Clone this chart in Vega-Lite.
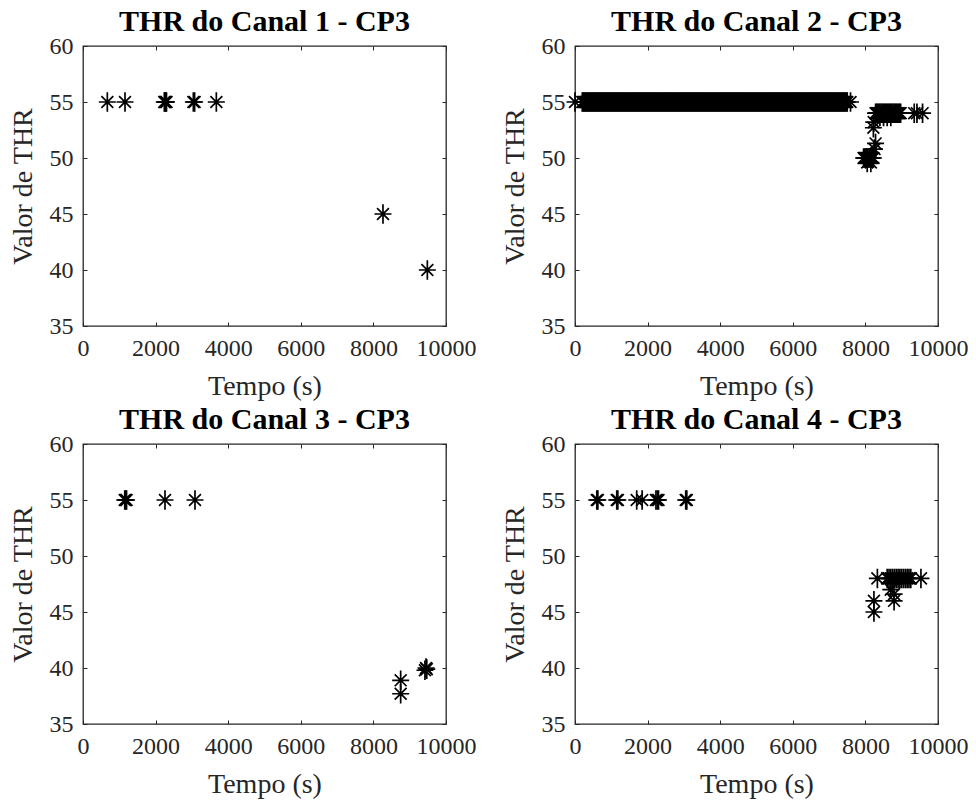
{
  "$schema": "https://vega.github.io/schema/vega-lite/v6.json",
  "background": "white",
  "padding": {"left": 8, "top": 6, "right": 5, "bottom": 5},
  "datasets": {
    "c1": [{"t":670,"v":55},{"t":1157,"v":55},{"t":2240,"v":55},{"t":2260,"v":55},{"t":2280,"v":55},{"t":2300,"v":55},{"t":3040,"v":55},{"t":3075,"v":55},{"t":3673,"v":55},{"t":8264,"v":45},{"t":9486,"v":40}],
    "c2": [{"t":0,"v":55},
      {"t":200,"v":55},{"t":225,"v":55},{"t":250,"v":55},{"t":275,"v":55},{"t":300,"v":55},{"t":325,"v":55},{"t":350,"v":55},{"t":375,"v":55},{"t":400,"v":55},{"t":425,"v":55},{"t":450,"v":55},{"t":475,"v":55},
      {"t":500,"v":55},{"t":525,"v":55},{"t":550,"v":55},{"t":575,"v":55},{"t":600,"v":55},{"t":625,"v":55},{"t":650,"v":55},{"t":675,"v":55},{"t":700,"v":55},{"t":725,"v":55},{"t":750,"v":55},{"t":775,"v":55},
      {"t":800,"v":55},{"t":825,"v":55},{"t":850,"v":55},{"t":875,"v":55},{"t":900,"v":55},{"t":925,"v":55},{"t":950,"v":55},{"t":975,"v":55},{"t":1000,"v":55},{"t":1025,"v":55},{"t":1050,"v":55},{"t":1075,"v":55},
      {"t":1100,"v":55},{"t":1125,"v":55},{"t":1150,"v":55},{"t":1175,"v":55},{"t":1200,"v":55},{"t":1225,"v":55},{"t":1250,"v":55},{"t":1275,"v":55},{"t":1300,"v":55},{"t":1325,"v":55},{"t":1350,"v":55},{"t":1375,"v":55},
      {"t":1400,"v":55},{"t":1425,"v":55},{"t":1450,"v":55},{"t":1475,"v":55},{"t":1500,"v":55},{"t":1525,"v":55},{"t":1550,"v":55},{"t":1575,"v":55},{"t":1600,"v":55},{"t":1625,"v":55},{"t":1650,"v":55},{"t":1675,"v":55},
      {"t":1700,"v":55},{"t":1725,"v":55},{"t":1750,"v":55},{"t":1775,"v":55},{"t":1800,"v":55},{"t":1825,"v":55},{"t":1850,"v":55},{"t":1875,"v":55},{"t":1900,"v":55},{"t":1925,"v":55},{"t":1950,"v":55},{"t":1975,"v":55},
      {"t":2000,"v":55},{"t":2025,"v":55},{"t":2050,"v":55},{"t":2075,"v":55},{"t":2100,"v":55},{"t":2125,"v":55},{"t":2150,"v":55},{"t":2175,"v":55},{"t":2200,"v":55},{"t":2225,"v":55},{"t":2250,"v":55},{"t":2275,"v":55},
      {"t":2300,"v":55},{"t":2325,"v":55},{"t":2350,"v":55},{"t":2375,"v":55},{"t":2400,"v":55},{"t":2425,"v":55},{"t":2450,"v":55},{"t":2475,"v":55},{"t":2500,"v":55},{"t":2525,"v":55},{"t":2550,"v":55},{"t":2575,"v":55},
      {"t":2600,"v":55},{"t":2625,"v":55},{"t":2650,"v":55},{"t":2675,"v":55},{"t":2700,"v":55},{"t":2725,"v":55},{"t":2750,"v":55},{"t":2775,"v":55},{"t":2800,"v":55},{"t":2825,"v":55},{"t":2850,"v":55},{"t":2875,"v":55},
      {"t":2900,"v":55},{"t":2925,"v":55},{"t":2950,"v":55},{"t":2975,"v":55},{"t":3000,"v":55},{"t":3025,"v":55},{"t":3050,"v":55},{"t":3075,"v":55},{"t":3100,"v":55},{"t":3125,"v":55},{"t":3150,"v":55},{"t":3175,"v":55},
      {"t":3200,"v":55},{"t":3225,"v":55},{"t":3250,"v":55},{"t":3275,"v":55},{"t":3300,"v":55},{"t":3325,"v":55},{"t":3350,"v":55},{"t":3375,"v":55},{"t":3400,"v":55},{"t":3425,"v":55},{"t":3450,"v":55},{"t":3475,"v":55},
      {"t":3500,"v":55},{"t":3525,"v":55},{"t":3550,"v":55},{"t":3575,"v":55},{"t":3600,"v":55},{"t":3625,"v":55},{"t":3650,"v":55},{"t":3675,"v":55},{"t":3700,"v":55},{"t":3725,"v":55},{"t":3750,"v":55},{"t":3775,"v":55},
      {"t":3800,"v":55},{"t":3825,"v":55},{"t":3850,"v":55},{"t":3875,"v":55},{"t":3900,"v":55},{"t":3925,"v":55},{"t":3950,"v":55},{"t":3975,"v":55},{"t":4000,"v":55},{"t":4025,"v":55},{"t":4050,"v":55},{"t":4075,"v":55},
      {"t":4100,"v":55},{"t":4125,"v":55},{"t":4150,"v":55},{"t":4175,"v":55},{"t":4200,"v":55},{"t":4225,"v":55},{"t":4250,"v":55},{"t":4275,"v":55},{"t":4300,"v":55},{"t":4325,"v":55},{"t":4350,"v":55},{"t":4375,"v":55},
      {"t":4400,"v":55},{"t":4425,"v":55},{"t":4450,"v":55},{"t":4475,"v":55},{"t":4500,"v":55},{"t":4525,"v":55},{"t":4550,"v":55},{"t":4575,"v":55},{"t":4600,"v":55},{"t":4625,"v":55},{"t":4650,"v":55},{"t":4675,"v":55},
      {"t":4700,"v":55},{"t":4725,"v":55},{"t":4750,"v":55},{"t":4775,"v":55},{"t":4800,"v":55},{"t":4825,"v":55},{"t":4850,"v":55},{"t":4875,"v":55},{"t":4900,"v":55},{"t":4925,"v":55},{"t":4950,"v":55},{"t":4975,"v":55},
      {"t":5000,"v":55},{"t":5025,"v":55},{"t":5050,"v":55},{"t":5075,"v":55},{"t":5100,"v":55},{"t":5125,"v":55},{"t":5150,"v":55},{"t":5175,"v":55},{"t":5200,"v":55},{"t":5225,"v":55},{"t":5250,"v":55},{"t":5275,"v":55},
      {"t":5300,"v":55},{"t":5325,"v":55},{"t":5350,"v":55},{"t":5375,"v":55},{"t":5400,"v":55},{"t":5425,"v":55},{"t":5450,"v":55},{"t":5475,"v":55},{"t":5500,"v":55},{"t":5525,"v":55},{"t":5550,"v":55},{"t":5575,"v":55},
      {"t":5600,"v":55},{"t":5625,"v":55},{"t":5650,"v":55},{"t":5675,"v":55},{"t":5700,"v":55},{"t":5725,"v":55},{"t":5750,"v":55},{"t":5775,"v":55},{"t":5800,"v":55},{"t":5825,"v":55},{"t":5850,"v":55},{"t":5875,"v":55},
      {"t":5900,"v":55},{"t":5925,"v":55},{"t":5950,"v":55},{"t":5975,"v":55},{"t":6000,"v":55},{"t":6025,"v":55},{"t":6050,"v":55},{"t":6075,"v":55},{"t":6100,"v":55},{"t":6125,"v":55},{"t":6150,"v":55},{"t":6175,"v":55},
      {"t":6200,"v":55},{"t":6225,"v":55},{"t":6250,"v":55},{"t":6275,"v":55},{"t":6300,"v":55},{"t":6325,"v":55},{"t":6350,"v":55},{"t":6375,"v":55},{"t":6400,"v":55},{"t":6425,"v":55},{"t":6450,"v":55},{"t":6475,"v":55},
      {"t":6500,"v":55},{"t":6525,"v":55},{"t":6550,"v":55},{"t":6575,"v":55},{"t":6600,"v":55},{"t":6625,"v":55},{"t":6650,"v":55},{"t":6675,"v":55},{"t":6700,"v":55},{"t":6725,"v":55},{"t":6750,"v":55},{"t":6775,"v":55},
      {"t":6800,"v":55},{"t":6825,"v":55},{"t":6850,"v":55},{"t":6875,"v":55},{"t":6900,"v":55},{"t":6925,"v":55},{"t":6950,"v":55},{"t":6975,"v":55},{"t":7000,"v":55},{"t":7025,"v":55},{"t":7050,"v":55},{"t":7075,"v":55},
      {"t":7100,"v":55},{"t":7125,"v":55},{"t":7150,"v":55},{"t":7175,"v":55},{"t":7200,"v":55},{"t":7225,"v":55},{"t":7250,"v":55},{"t":7275,"v":55},{"t":7300,"v":55},{"t":7325,"v":55},{"t":7350,"v":55},{"t":7375,"v":55},
      {"t":7400,"v":55},{"t":7425,"v":55},{"t":7450,"v":55},{"t":7475,"v":55},{"t":7500,"v":55},{"t":7590,"v":55},
      {"t":8280,"v":54},{"t":8310,"v":54},{"t":8340,"v":54},{"t":8370,"v":54},{"t":8400,"v":54},{"t":8430,"v":54},{"t":8460,"v":54},{"t":8490,"v":54},{"t":8520,"v":54},{"t":8550,"v":54},{"t":8580,"v":54},{"t":8610,"v":54},
      {"t":8640,"v":54},{"t":8670,"v":54},{"t":8700,"v":54},{"t":8730,"v":54},{"t":8760,"v":54},{"t":8790,"v":54},{"t":8820,"v":54},{"t":8850,"v":54},{"t":8880,"v":54},{"t":8910,"v":54},{"t":8940,"v":54},{"t":8970,"v":54},
      {"t":8400,"v":53.7},{"t":8500,"v":53.7},{"t":8600,"v":53.7},{"t":8700,"v":53.7},
      {"t":9345,"v":54},{"t":9420,"v":54},{"t":9575,"v":54},
      {"t":8230,"v":53.2},{"t":8220,"v":52.7},
      {"t":7950,"v":50},{"t":7980,"v":50},{"t":8010,"v":50},{"t":8040,"v":50},{"t":8070,"v":50},{"t":8100,"v":50},{"t":8130,"v":50},{"t":8160,"v":50},{"t":8190,"v":50},{"t":8220,"v":50},
      {"t":8050,"v":49.6},{"t":8150,"v":49.6},{"t":8250,"v":50.8},{"t":8280,"v":51.3}
    ],
    "c3": [{"t":1150,"v":55},{"t":1175,"v":55},{"t":1200,"v":55},{"t":2259,"v":55},{"t":3085,"v":55},{"t":8751,"v":38.9},{"t":8751,"v":37.7},{"t":9420,"v":39.8},{"t":9450,"v":40},{"t":9470,"v":39.9}],
    "c4": [{"t":600,"v":55},{"t":630,"v":55},{"t":1150,"v":55},{"t":1180,"v":55},{"t":1700,"v":55},{"t":1850,"v":55},{"t":2230,"v":55},{"t":2270,"v":55},{"t":2300,"v":55},{"t":3050,"v":55},{"t":3080,"v":55},
      {"t":8330,"v":48},{"t":8600,"v":48},{"t":8650,"v":48},{"t":8700,"v":48},{"t":8750,"v":48},{"t":8800,"v":48},{"t":8850,"v":48},{"t":8900,"v":48},{"t":8950,"v":48},{"t":9000,"v":48},
      {"t":9050,"v":48},{"t":9100,"v":48},{"t":9150,"v":48},{"t":9200,"v":48},{"t":9250,"v":48},{"t":9530,"v":48},
      {"t":8235,"v":46},{"t":8235,"v":45},{"t":8790,"v":46},{"t":8790,"v":46.6},{"t":8700,"v":47}
    ]
  },
  "columns": 2,
  "bounds": "flush",
  "spacing": {"row": 118, "column": 129},
  "concat": [
    {
      "width": 363, "height": 280,
      "title": "THR do Canal 1 - CP3",
      "data": {"name": "c1"},
      "layer": [
        {"mark": {"type": "point", "shape": "M-1,0H1M0,-1.15V1.15M-0.7,-0.7L0.7,0.7M-0.7,0.7L0.7,-0.7", "size": 289, "filled": false, "color": "black", "strokeWidth": 1.7, "opacity": 1},
         "encoding": {
           "x": {"field": "t", "type": "quantitative", "scale": {"domain": [0, 10000], "nice": false}, "axis": {"values": [0,2000,4000,6000,8000,10000], "title": "Tempo (s)"}},
           "y": {"field": "v", "type": "quantitative", "scale": {"domain": [35, 60], "nice": false, "zero": false}, "axis": {"values": [35,40,45,50,55,60], "title": "Valor de THR"}}}},
        {"mark": {"type": "point", "opacity": 0},
         "encoding": {
           "x": {"field": "t", "type": "quantitative", "axis": {"orient": "top", "labels": false, "title": null, "values": [0,2000,4000,6000,8000,10000]}},
           "y": {"field": "v", "type": "quantitative", "axis": {"orient": "right", "labels": false, "title": null, "values": [35,40,45,50,55,60]}}}}
      ],
      "resolve": {"axis": {"x": "independent", "y": "independent"}}
    },
    {
      "width": 363, "height": 280,
      "title": "THR do Canal 2 - CP3",
      "data": {"name": "c2"},
      "layer": [
        {"mark": {"type": "point", "shape": "M-1,0H1M0,-1.15V1.15M-0.7,-0.7L0.7,0.7M-0.7,0.7L0.7,-0.7", "size": 289, "filled": false, "color": "black", "strokeWidth": 1.7, "opacity": 1},
         "encoding": {
           "x": {"field": "t", "type": "quantitative", "scale": {"domain": [0, 10000], "nice": false}, "axis": {"values": [0,2000,4000,6000,8000,10000], "title": "Tempo (s)"}},
           "y": {"field": "v", "type": "quantitative", "scale": {"domain": [35, 60], "nice": false, "zero": false}, "axis": {"values": [35,40,45,50,55,60], "title": "Valor de THR"}}}},
        {"mark": {"type": "point", "opacity": 0},
         "encoding": {
           "x": {"field": "t", "type": "quantitative", "axis": {"orient": "top", "labels": false, "title": null, "values": [0,2000,4000,6000,8000,10000]}},
           "y": {"field": "v", "type": "quantitative", "axis": {"orient": "right", "labels": false, "title": null, "values": [35,40,45,50,55,60]}}}}
      ],
      "resolve": {"axis": {"x": "independent", "y": "independent"}}
    },
    {
      "width": 363, "height": 280,
      "title": "THR do Canal 3 - CP3",
      "data": {"name": "c3"},
      "layer": [
        {"mark": {"type": "point", "shape": "M-1,0H1M0,-1.15V1.15M-0.7,-0.7L0.7,0.7M-0.7,0.7L0.7,-0.7", "size": 289, "filled": false, "color": "black", "strokeWidth": 1.7, "opacity": 1},
         "encoding": {
           "x": {"field": "t", "type": "quantitative", "scale": {"domain": [0, 10000], "nice": false}, "axis": {"values": [0,2000,4000,6000,8000,10000], "title": "Tempo (s)"}},
           "y": {"field": "v", "type": "quantitative", "scale": {"domain": [35, 60], "nice": false, "zero": false}, "axis": {"values": [35,40,45,50,55,60], "title": "Valor de THR"}}}},
        {"mark": {"type": "point", "opacity": 0},
         "encoding": {
           "x": {"field": "t", "type": "quantitative", "axis": {"orient": "top", "labels": false, "title": null, "values": [0,2000,4000,6000,8000,10000]}},
           "y": {"field": "v", "type": "quantitative", "axis": {"orient": "right", "labels": false, "title": null, "values": [35,40,45,50,55,60]}}}}
      ],
      "resolve": {"axis": {"x": "independent", "y": "independent"}}
    },
    {
      "width": 363, "height": 280,
      "title": "THR do Canal 4 - CP3",
      "data": {"name": "c4"},
      "layer": [
        {"mark": {"type": "point", "shape": "M-1,0H1M0,-1.15V1.15M-0.7,-0.7L0.7,0.7M-0.7,0.7L0.7,-0.7", "size": 289, "filled": false, "color": "black", "strokeWidth": 1.7, "opacity": 1},
         "encoding": {
           "x": {"field": "t", "type": "quantitative", "scale": {"domain": [0, 10000], "nice": false}, "axis": {"values": [0,2000,4000,6000,8000,10000], "title": "Tempo (s)"}},
           "y": {"field": "v", "type": "quantitative", "scale": {"domain": [35, 60], "nice": false, "zero": false}, "axis": {"values": [35,40,45,50,55,60], "title": "Valor de THR"}}}},
        {"mark": {"type": "point", "opacity": 0},
         "encoding": {
           "x": {"field": "t", "type": "quantitative", "axis": {"orient": "top", "labels": false, "title": null, "values": [0,2000,4000,6000,8000,10000]}},
           "y": {"field": "v", "type": "quantitative", "axis": {"orient": "right", "labels": false, "title": null, "values": [35,40,45,50,55,60]}}}}
      ],
      "resolve": {"axis": {"x": "independent", "y": "independent"}}
    }
  ],
  "config": {
    "font": "Liberation Serif",
    "view": {"stroke": "#262626", "strokeWidth": 1.3},
    "title": {"font": "Liberation Serif", "fontSize": 30, "fontWeight": "bold", "color": "black", "offset": -3},
    "axis": {
      "grid": false, "domain": false, "format": "d", "labelOverlap": false, "labelFlush": false,
      "labelFont": "Liberation Serif", "labelFontSize": 24, "labelColor": "#262626", "labelPadding": 14,
      "titleFont": "Liberation Serif", "titleFontSize": 28, "titleFontWeight": "normal", "titleColor": "#262626", "titlePadding": 12,
      "tickColor": "#262626", "tickSize": -4, "tickWidth": 1
    }
  }
}
